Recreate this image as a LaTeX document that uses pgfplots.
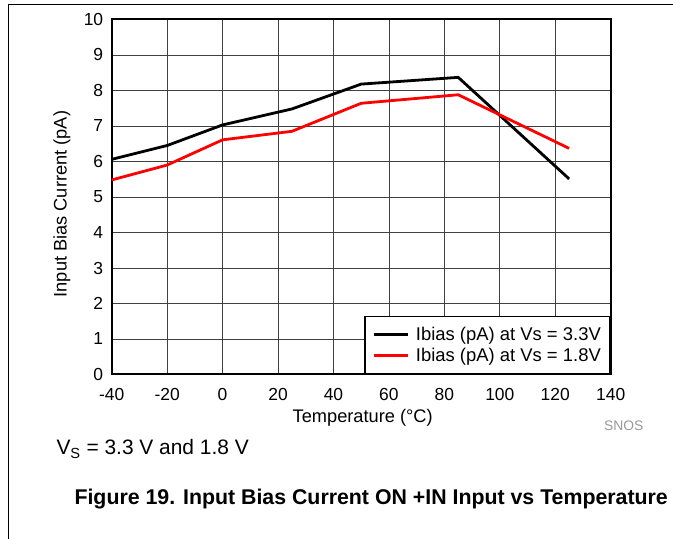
\documentclass[border=0pt]{standalone}
\usepackage{pgfplots}
\pgfplotsset{compat=1.18}
\usepackage{fontspec}
\setmainfont{Liberation Sans}
\begin{document}
\begin{tikzpicture}
\useasboundingbox (0,0) rectangle (673bp,539bp);
\draw[line width=1bp] (8bp,0bp) -- (8bp,534bp) -- (673bp,534bp);
\begin{axis}[
  at={(111.7bp,164.5bp)}, anchor=south west,
  scale only axis, width=499bp, height=355bp,
  xmin=-40, xmax=140, ymin=0, ymax=10,
  xtick={-40,-20,...,140}, ytick={0,1,...,10},
  grid=major, major grid style={line width=0.8bp, black!75},
  axis line style={line width=2bp},
  major tick length=0pt,
  /pgf/number format/assume math mode=true,
  tick label style={font=\fontsize{17.5}{20}\selectfont},
  xticklabel style={yshift=-10bp},
  yticklabel style={xshift=-5bp},
  xlabel={Temperature (°C)}, ylabel={Input Bias Current (pA)},
  label style={font=\fontsize{18.3}{21}\selectfont},
  xlabel style={at={(axis description cs:0.503,-0.122)}, anchor=center},
  ylabel style={at={(axis description cs:-0.1,0.48)}, anchor=center},
  legend style={at={(1,0)}, anchor=south east, draw=black, line width=1.8bp,
    font=\fontsize{18.5}{21}\selectfont, inner xsep=7bp, inner ysep=9bp,
    row sep=1.5bp, column sep=5bp, cells={anchor=west}},
  legend image code/.code={\draw[#1, line width=2.8bp] (0bp,0bp) -- (34bp,0bp);},
]
\addplot[black, line width=2.8bp] coordinates {(-40,6.06) (-20,6.45) (0,7.03) (25,7.48) (50,8.18) (85,8.37) (125,5.51)};
\addlegendentry{Ibias (pA) at Vs = 3.3V}
\addplot[red, line width=2.8bp] coordinates {(-40,5.48) (-20,5.90) (0,6.61) (25,6.85) (50,7.64) (85,7.88) (125,6.37)};
\addlegendentry{Ibias (pA) at Vs = 1.8V}
\end{axis}
\node[anchor=base west, font=\fontsize{21}{24}\selectfont] at (53bp,84bp) {V\textsubscript{S} = 3.3 V and 1.8 V};
\node[anchor=base west, font=\bfseries\fontsize{21.4}{25}\selectfont] at (71bp,34.5bp) {Figure 19. Input Bias Current ON +IN Input vs Temperature};
\node[anchor=base west, text=black!40, font=\fontsize{13.9}{16}\selectfont] at (600.7bp,108bp) {SNOS};
\end{tikzpicture}
\end{document}
